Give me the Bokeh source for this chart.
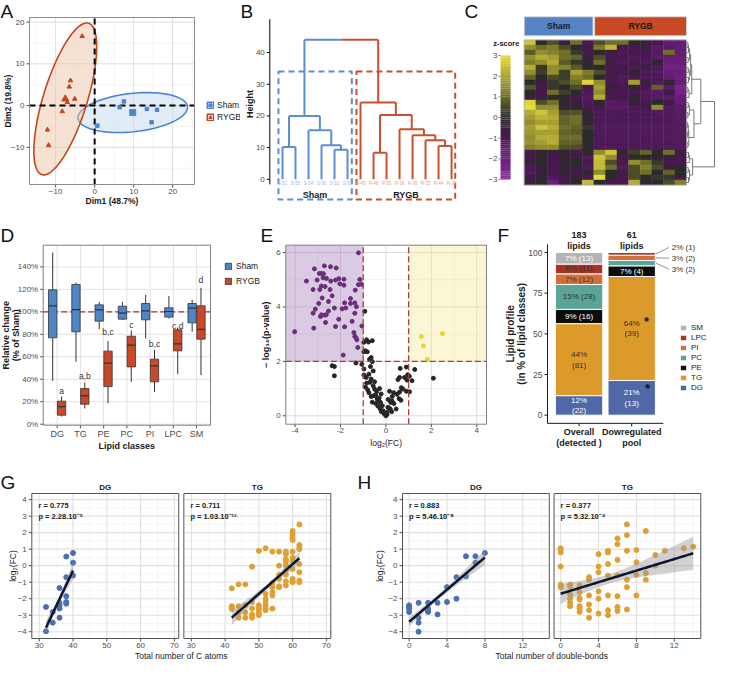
import numpy as np
from bokeh.plotting import figure
from bokeh.models import Range1d, Legend, LegendItem, LinearColorMapper, ColumnDataSource
from bokeh.layouts import row, column
from bokeh.embed import file_html
from bokeh.resources import INLINE
from bokeh.core.properties import value

FONT = "Liberation Sans"
TXT = "#1a1a1a"
TCK = "#4d4d4d"
MINUS = "\u2212"

# ===================== DATA =====================
# A: PCA of individuals
pca_sham_dim1 = [7.5, 6.4, 13.4, 16.0, 14.6, 0.7]
pca_sham_dim2 = [1.0, -0.4, -0.8, -1.0, -4.0, -4.8]
pca_rygb_dim1 = [-3.2, -6.2, -6.5, -5.1, -8.3, -12.1, -11.8, -7.0]
pca_rygb_dim2 = [16.6, 6.0, 4.5, 1.6, -1.4, -5.8, -9.5, 0.8]
ell_sham = [14.1, 4.6, 5.7]      # semi-axis a, semi-axis b, angle (deg)
ell_rygb = [19.1, 5.6, 71.5]

# B: sample dendrogram
dend_sham_labels = ["S-51", "S-55", "S-54", "S-56", "S-52", "S-53"]
dend_rygb_labels = ["R-43", "R-48", "R-50", "R-39", "R-36", "R-35", "R-44", "R-37"]
dend_sham_tree = ((0, 1, 10.2), (2, (3, (4, 5, 9.3), 10.7), 15.5), 20.0)
dend_rygb_tree = (6, ((7, 8, 8.4), (9, (10, (11, (12, 13, 10.5), 12.3), 13.9), 15.8), 20.3), 24.2)
dend_root_height = 44.0
dend_cut_height = 34.0

# C: heatmap z-scores (rows x 14 samples: 6 Sham, 8 RYGB)
heat_groups = ["Sham", "RYGB"]
heat_group_n = [6, 8]
heat_z = [
    [2.5, 0, 0.5, -0.5, 1, -1, 0.5, 1, 1, 0, -0.5, -1, -1.8, -1.8],
    [1.5, 1, 1.2, 0.5, 0, -0.8, 1.2, 2.2, -1, -1, -0.5, -1.5, -1.5, -1.8],
    [0.7, 1.5, 1.3, 1, 0.2, -1, 0, -0.8, -1.2, -1, -1, -1.5, 1, -1.8],
    [1.5, 2, 1.8, 1, 0.8, -0.3, 0.5, -1, -1, -1.2, -1, -1.5, -1.8, -2],
    [1.2, 1.5, 2, 0.7, 0.2, -0.2, 1, -0.8, -1.2, -1, -1.2, -0.3, -2, -2],
    [2, 0.2, 1.5, 1.3, 0.7, 0, 0, -1, -1, -1.2, -0.6, -1.2, -2.2, -2.2],
    [1.5, 0.3, 1.5, 0.3, 1.8, 1.2, 0.5, -0.8, -1, -0.3, -1.2, -1.3, -2, -2],
    [0.8, 0, 0.5, 0.3, 1.3, 1, -0.2, -1, -1.3, -1, -1.2, -1.2, -1.8, -2.2],
    [0, -0.5, 0.2, 0.5, 1, 2.8, 1.5, -1, -1.2, 1.8, -0.6, -1.2, -0.3, -2],
    [0.6, -1, 0.2, 0, 0.5, -1, 1.8, -0.3, -1, 0, -1, 0.8, -1.5, -2.5],
    [0, -0.8, 1, 0.3, 0, -1.2, 1.5, -1, -1, -1, -1.3, -1.5, -0.8, -2.3],
    [-0.5, -0.8, 0, -0.2, -1, -1.3, 2, -1, -1, -0.3, -1.2, -1.5, -1.5, -2],
    [2.8, 0.5, 1, -0.3, -0.5, -1.2, 0, -1.5, -1.3, -0.3, -1, 0, -0.8, -1.8],
    [3, 1.5, 1.5, -0.2, -0.3, -1, -1, -1.5, -1.5, -1.2, -0.8, 1.5, -1.3, -1.5],
    [2, 2.5, 1.8, 0.5, 0.6, -0.3, -1.2, -1.2, -1.2, -1.2, -1.2, -1.3, -1.3, -1.5],
    [1.8, 2.2, 2, 0.8, 1, 0, -1.2, -1.2, -1.2, -1.2, -1.2, -1.2, -1.3, -1.5],
    [1.5, 1.8, 1.8, 0.8, 1, -0.2, -1.2, -1.2, -1.2, -1.2, -1.2, -1.2, -1.2, -1.4],
    [1.8, 2.5, 2, 1, 0.8, 0.2, -1.3, -1.3, -1.3, -1.3, -1.3, -1.3, -1.3, -1.4],
    [1.7, 1.8, 1.8, 0.8, 0.7, 0, -1.3, -1.3, -1.3, -1.2, -1.3, -1.3, -1.3, -1.4],
    [1.5, 2, 2, 1, 1, 0, -1.2, -1.2, -1.2, -1.2, -1.2, -1.2, -1.3, -1.3],
    [1.6, 1.8, 2, 0.8, 0.8, 0, -1.2, -1.2, -1.2, -1.2, -1.2, -1.2, -1.2, -1.3],
    [1.3, 1.5, 1.5, 0.6, 0.5, -0.1, -1.2, -1.2, -1.2, -1.2, -1.2, -1.2, -1.2, -1.4],
    [-1, -0.3, -0.6, -0.2, -1, -0.2, 1.5, 2.5, -0.3, 0.3, 0.8, -0.3, 1, -0.7],
    [-0.8, -0.2, -1, -0.2, -0.6, -1.3, 2.5, 1.5, -1, 0, 0, -0.3, -0.6, -1],
    [-0.3, 0, -1, -0.2, 0, -1, 2.3, 0.5, -1, 1.5, 1, 0.2, -1, -1],
    [-1.2, -0.3, -1, -0.6, -0.3, -1.2, 2.3, 1, -1.3, 0.5, 1.3, 0.5, -0.3, 0],
    [-1.3, -0.5, -1, -0.3, -1, -0.2, 1.5, 0, -0.8, 0.5, 1, 0, 0.8, 0],
    [-0.8, -0.3, -1.2, -1, -0.3, -1, 3, 0, -1, 0.5, 0, 0.2, 0.2, -0.8],
    [-0.3, 0, -2, -0.6, 0, 2.3, 0, -1, -1, 2, -0.3, 0, 0.5, 1.3],
]
heat_row_tree = (
    ((((((0, 1, 0.3), 2, 0.5), (3, 4, 0.4), 0.9), ((5, 6, 0.4), (7, 8, 0.5), 0.8), 1.3),
      ((9, 10, 0.3), 11, 0.7), 1.7),
     (((12, 13, 0.4), (14, 15, 0.3), 0.8), (((16, 17, 0.2), (18, 19, 0.2), 0.4), (20, 21, 0.3), 0.6), 2.5),
     5.0),
    (((22, 23, 0.5), 24, 0.8), ((25, 26, 0.4), (27, 28, 0.5), 0.9), 2.0),
    10.0)
z_ticks = [3, 2, 1, 0, -1, -2, -3]
z_anchor = [-3, -2, -1, 0, 1, 2, 3]
z_colors = ["#8b2d98", "#6a1e79", "#47194f", "#2a2a2a", "#6f6f2a", "#b3ab35", "#e6dc3c"]

# D: relative change boxplots (% of Sham)
classes_d = ["DG", "TG", "PE", "PC", "PI", "LPC", "SM"]
sham_lo = [38.6, 55.5, 84.6, 92.9, 76.3, 94.1, 82.2]
sham_q1 = [76.9, 82.2, 91.7, 93.5, 92.9, 95.3, 90.2]
sham_med = [105.3, 102.0, 101.8, 98.8, 100.9, 100.3, 103.3]
sham_q3 = [119.6, 124.3, 106.2, 105.0, 107.4, 103.6, 107.4]
sham_hi = [152.8, 126.0, 108.9, 108.9, 115.1, 114.0, 110.7]
rygb_lo = [6.8, 14.0, 18.7, 37.7, 28.8, 44.5, 43.6]
rygb_q1 = [8.0, 17.8, 33.5, 51.0, 37.7, 65.3, 75.7]
rygb_med = [15.7, 25.2, 54.3, 70.3, 51.9, 71.5, 84.3]
rygb_q3 = [20.5, 31.7, 65.0, 78.3, 57.9, 84.0, 105.3]
rygb_hi = [24.6, 37.1, 73.9, 83.4, 66.2, 86.0, 121.4]
sig_letters = ["a", "a,b", "b,c", "c", "b,c", "c,d", "d"]
sig_y = [29.7, 43.0, 82.0, 88.7, 71.0, 87.5, 128.0]

# E: volcano plot
down_log2fc = [-1.21, -3.15, -2.71, -2.44, -2.19, -2.93, -2.84, -2.75, -3.50, -3.03, -2.77, -2.62, -2.43, -2.22,
               -2.08, -1.15, -1.07, -1.21, -2.03, -1.85, -2.84, -2.68, -3.21, -2.91, -2.46, -1.35, -2.81, -2.53,
               -2.96, -1.82, -1.56, -1.37, -2.27, -1.93, -1.77, -1.30, -3.21, -2.84, -2.88, -2.69, -2.63, -2.53,
               -1.37, -2.08, -1.49, -4.02, -3.18, -2.22, -1.82, -1.06, -1.41, -1.37, -1.32, -1.28, -1.24, -1.88,
               -1.56, -2.37, -3.11, -2.66, -1.85]
down_mlog10p = [5.99, 5.40, 5.51, 5.48, 5.43, 5.23, 5.23, 5.22, 4.95, 4.99, 5.07, 5.05, 4.95, 4.99,
                5.04, 5.01, 4.83, 4.82, 4.85, 4.80, 4.77, 4.75, 4.64, 4.64, 4.64, 4.62, 4.33, 4.20,
                4.13, 4.15, 4.13, 4.15, 3.96, 3.93, 3.96, 4.01, 3.77, 3.71, 3.65, 3.70, 3.71, 3.85,
                3.77, 3.55, 3.47, 3.09, 3.22, 3.28, 3.27, 3.30, 3.06, 2.92, 2.87, 2.79, 2.51, 2.23,
                4.31, 4.41, 3.92, 3.43, 5.02]
up_log2fc = [1.56, 2.49, 1.65, 1.83]
up_mlog10p = [2.91, 3.02, 2.57, 2.08]
ns_log2fc = [-0.93, -0.85, -0.77, -0.60, -0.97, -0.91, -0.82, -0.97, -0.65, -0.72, -1.32, -1.06, -2.37, -2.27,
             -2.27, -0.97, -0.68, -0.60, -0.97, -0.87, -0.75, -0.56, -0.65, -0.71, -0.56, -0.50, -0.28, -0.41,
             -0.65, -0.53, -0.38, -0.31, -0.24, -0.16, -0.12, -0.06, 0.00, 0.21, 0.28, 0.13, -0.21, 0.90,
             1.27, 2.09, 0.63, 0.96, 1.03, 0.82, 0.60, 0.53, 1.15, 0.93, 0.68, 0.75, 0.90, 0.60, 0.49,
             0.34, 0.16, 0.26, 0.58, 0.66, 1.04, 0.09, 0.19, 0.04, -0.85, -0.90, -0.80, -0.45, -0.35, -0.25,
             -0.10, 0.05, -0.20, -0.45, -0.60, -0.75, -0.50, -0.30, 0.10, 0.35, 0.45, 0.25]
ns_mlog10p = [3.84, 2.79, 2.71, 2.76, 2.70, 2.39, 2.35, 2.35, 2.14, 2.08, 1.94, 1.89, 1.84, 1.81,
              1.47, 1.72, 1.81, 1.99, 1.50, 1.41, 1.53, 1.65, 1.35, 1.23, 1.10, 0.98, 1.00, 0.89,
              0.71, 0.74, 0.61, 0.55, 0.49, 0.37, 0.18, 0.06, 0.00, 0.49, 0.71, 0.28, 0.80, 1.79,
              1.70, 1.38, 1.74, 1.51, 1.45, 1.41, 1.41, 1.33, 1.29, 1.31, 1.03, 0.98, 0.90, 0.87, 0.79,
              0.85, 0.90, 0.55, 0.63, 0.57, 0.88, 0.31, 0.25, 0.12, 1.20, 1.05, 0.95, 0.75, 0.35, 0.25,
              0.10, 0.05, 0.15, 0.45, 0.50, 0.85, 1.25, 0.65, 0.60, 0.45, 0.25, 0.15]
fc_cut = 1.0
p_cut = 2.0

# F: lipid class profile
classes_f = ["DG", "TG", "PE", "PC", "PI", "LPC", "SM"]
colors_f = ["#5068a8", "#dc9a2a", "#0d0d0d", "#5aa597", "#d2703c", "#a93226", "#b4b4b4"]
overall_n = [22, 81, 16, 28, 12, 11, 13]
down_n = [13, 39, 4, 2, 2, 1, 0]
bar_names = [["Overall", "(detected )"], ["Dowregulated", "pool"]]

# G: log2FC vs total C atoms
g_dg_carbons = [32, 32, 34, 34, 36, 36, 36, 36, 36, 38, 38, 38, 38, 38, 40, 40, 40]
g_dg_log2fc = [-2.5, -3.97, -2.8, -3.45, -1.35, -2.25, -2.4, -2.6, -3.15, 0.55, -0.7, -1.85, -2.2, -2.3, 0.77, 0.18, -0.6]
g_tg_carbons = [42, 42, 42, 42, 44, 44, 44, 44, 46, 46, 46, 46, 48, 48, 48, 48, 48,
                50, 50, 50, 50, 50, 50, 52, 52, 52, 52, 52, 52, 52, 54, 54, 54, 54, 54, 54,
                56, 56, 56, 56, 56, 56, 58, 58, 58, 58, 58, 58, 58, 58, 58,
                60, 60, 60, 60, 60, 60, 60, 60, 60, 60, 60, 62, 62, 62, 62, 62, 62, 62, 62]
g_tg_log2fc = [-1.37, -2.45, -2.55, -2.62, -1.13, -2.45, -2.82, -3.15, -1.13, -2.4, -2.82, -3.15,
               -0.06, -2.2, -2.6, -2.95, -3.15, 0.9, -2.4, -2.55, -2.7, -2.9, -3.0,
               1.05, -1.7, -2.0, -2.2, -2.4, -2.6, -2.7, 0.85, -1.05, -1.3, -1.6, -1.8, -2.6,
               0.85, 0.0, -0.55, -0.8, -1.25, -1.3, 0.85, 0.7, 0.4, 0.25, 0.0, -0.3, -0.55, -0.95, -1.2,
               2.1, 1.9, 1.7, 1.55, 0.85, 0.5, 0.3, -0.2, -0.8, -0.95, -1.0,
               2.5, 1.25, 1.1, 1.0, 0.1, -0.4, -0.9, -1.0]
# fitted lines: x0, x1, y0, y1, x_center, ci_min, ci_slope
g_fit_dg = [32, 40, -3.75, -0.3, 35.5, 0.2, 0.111]
g_fit_tg = [42, 62, -3.15, 0.45, 53, 0.15, 0.039]
g_stats = [["r = 0.775", "p = 2.28.10\u207b\u2075"], ["r = 0.711", "p = 1.03.10\u207b\u00b9\u00b3"]]

# H: log2FC vs total double bonds
h_dg_db = [0, 0, 0, 0, 1, 1, 1, 1, 2, 2, 2, 2, 3, 3, 4, 4, 5, 5, 6, 6, 7, 7, 8]
h_dg_log2fc = [-2.4, -2.5, -2.6, -2.8, -2.25, -3.15, -3.45, -4.0, -2.25, -2.6, -2.75, -2.8,
               -2.25, -2.95, -1.3, -2.2, -0.7, -2.0, 0.57, -0.65, 0.57, 0.18, 0.77]
h_tg_db = [0, 0, 0, 0, 0, 0, 1, 1, 1, 1, 1, 1, 2, 2, 2, 2, 2, 2, 2, 3, 3, 3, 3, 3, 3,
           4, 4, 4, 4, 4, 4, 5, 5, 5, 5, 5, 5, 5, 6, 6, 6, 6, 6, 6, 6, 7, 7, 7, 7, 7, 7,
           8, 8, 8, 8, 9, 9, 9, 10, 10, 11, 13, 14]
h_tg_log2fc = [1.05, 0.95, 0.8, -0.05, -1.15, -1.3, -1.15, -1.25, -1.75, -2.0, -2.25, -2.45,
               -1.2, -1.6, -1.95, -2.05, -2.45, -2.6, -2.8, -0.7, -0.85, -1.8, -2.35, -2.7, -3.15,
               0.7, -0.05, -0.4, -1.55, -2.0, -2.9, 0.9, 0.8, 0.1, -0.6, -1.8, -2.7, -3.0,
               1.65, 1.3, 0.35, -0.6, -1.85, -2.5, -2.75, 2.5, 1.85, 0.9, -0.85, -1.3, -2.65,
               0.95, 0.2, -0.55, -1.8, 2.1, -0.45, -0.85, 0.65, 0.0, 0.9, 1.05, 1.15]
h_fit_dg = [0, 8, -3.4, 0.5, 3, 0.15, 0.085]
h_fit_tg = [0, 14, -1.7, 0.75, 5, 0.28, 0.107]
h_stats = [["r = 0.883", "p = 5.46.10\u207b\u2078"], ["r = 0.377", "p = 5.32.10\u207b\u2074"]]


# ===================== HELPERS =====================
def mkfig(w, h, ppx, pdat):
    """Frame spans the whole canvas. ppx: panel box in canvas px (left, right, top, bottom);
    pdat: its data extent (x0, x1, y0, y1)."""
    pl, pr, pt, pb = ppx
    x0, x1, y0, y1 = pdat
    sx = (pr - pl) / float(x1 - x0)
    sy = (pb - pt) / float(y1 - y0)
    xr = (x0 - pl / sx, x1 + (w - pr) / sx)
    yr = (y0 - (h - pb) / sy, y1 + pt / sy)
    p = figure(width=w, height=h, x_range=Range1d(*xr), y_range=Range1d(*yr),
               output_backend="svg", toolbar_location=None, x_axis_type=None, y_axis_type=None,
               min_border_left=0, min_border_right=0, min_border_top=0, min_border_bottom=0)
    p.outline_line_color = None
    p.border_fill_color = "white"
    p.background_fill_color = "white"
    p._sx, p._sy = sx, sy
    p._X = lambda lx: x0 + (lx - pl) / sx
    p._Y = lambda ly: y1 - (ly - pt) / sy
    p._pdat = pdat
    return p


def txt(p, x, y, t, size="8px", color=TXT, bold=False, align="center", baseline="middle", angle=0.0):
    return p.text(x=list(x), y=list(y), text=list(t), text_font=value(FONT), text_font_size=value(size),
                  text_color=color, text_font_style="bold" if bold else "normal",
                  text_align=align, text_baseline=baseline, angle=angle)


def xaxis_manual(p, ticks, labels, fs="8px", color=TCK, tick_color=TCK, gap=4, title=None, title_ly=None,
                 title_bold=True, tfs="9px"):
    yb = p._pdat[2]
    d = 1.0 / p._sy
    n = len(ticks)
    p.segment(list(ticks), [yb] * n, list(ticks), [yb - 3 * d] * n, line_color=tick_color, line_width=1)
    txt(p, ticks, [yb - gap * d] * n, labels, size=fs, color=color, baseline="top")
    if title:
        x0, x1 = p._pdat[0], p._pdat[1]
        txt(p, [(x0 + x1) / 2.0], [p._Y(title_ly)], [title], size=tfs, bold=title_bold)


def yaxis_manual(p, ticks, labels, fs="8px", color=TCK, tick_color=TCK, title=None, title_lx=None,
                 title_bold=True, tfs="9px", line_h=10.5, line=None):
    xl = p._pdat[0]
    d = 1.0 / p._sx
    n = len(ticks)
    if line:
        p.segment([xl], [line[0]], [xl], [line[1]], line_color=tick_color, line_width=1)
    p.segment([xl] * n, list(ticks), [xl - 3 * d] * n, list(ticks), line_color=tick_color, line_width=1)
    txt(p, [xl - 5 * d] * n, ticks, labels, size=fs, color=color, align="right")
    if title:
        lines = title.split("\n")
        yc = (p._pdat[2] + p._pdat[3]) / 2.0
        k = len(lines)
        xs = [p._X(title_lx + (i - (k - 1) / 2.0) * line_h) for i in range(k)]
        txt(p, xs, [yc] * k, lines, size=tfs, bold=title_bold, angle=np.pi / 2)


def grid_manual(p, xs, ys, color, width, xlim=None, ylim=None):
    x0, x1, y0, y1 = p._pdat
    if xlim:
        x0, x1 = xlim
    if ylim:
        y0, y1 = ylim
    if len(xs):
        p.segment(list(xs), [y0] * len(xs), list(xs), [y1] * len(xs), line_color=color, line_width=width)
    if len(ys):
        p.segment([x0] * len(ys), list(ys), [x1] * len(ys), list(ys), line_color=color, line_width=width)


def border(p, color="#7f7f7f"):
    x0, x1, y0, y1 = p._pdat
    p.quad(left=[x0], right=[x1], bottom=[y0], top=[y1], fill_color=None, line_color=color, line_width=1)


def letter(p, t, lx, ly):
    txt(p, [p._X(lx)], [p._Y(ly)], [t], size="19px", color="#111111", align="left", baseline="top")


def dendro(node, segs):
    if isinstance(node, int):
        return node + 1.0, 0.0
    left, right, h = node
    xl, hl = dendro(left, segs)
    xr, hr = dendro(right, segs)
    segs += [(xl, hl, xl, h), (xr, hr, xr, h), (xl, h, xr, h)]
    return (xl + xr) / 2.0, h


def ellipse_xy(cx, cy, a, b, ang, n=120):
    t = np.linspace(0, 2 * np.pi, n)
    th = np.radians(ang)
    return (cx + a * np.cos(t) * np.cos(th) - b * np.sin(t) * np.sin(th),
            cy + a * np.cos(t) * np.sin(th) + b * np.sin(t) * np.cos(th))


def mlab(v):
    return MINUS + str(abs(v)) if v < 0 else str(v)


def legend_kw(fs="8.5px"):
    return dict(padding=0, margin=0, label_text_font=FONT, label_text_font_size=fs, label_text_color=TXT,
                border_line_color=None, background_fill_alpha=0)


ROW2_H = 252
ROW3_H = 202

# ===================== A =====================
pa = mkfig(240, 207, (29, 194, 17, 184), (-16.7, 25.6, -18.9, 21.1))
grid_manual(pa, [-15, -5, 5, 15, 25], [-15, -5, 5, 15], "#efefef", 0.6)
grid_manual(pa, [-10, 0, 10, 20], [-10, 0, 10, 20], "#dedede", 1)
yaxis_manual(pa, [-10, 0, 10, 20], [mlab(v) for v in [-10, 0, 10, 20]], title="Dim2 (19.8%)", title_lx=7,
             tfs="8.5px")
xaxis_manual(pa, [-10, 0, 10, 20], [mlab(v) for v in [-10, 0, 10, 20]], gap=4, title="Dim1 (48.7%)",
             title_ly=200, tfs="8.5px")
cs = (np.mean(pca_sham_dim1), np.mean(pca_sham_dim2))
cr = (np.mean(pca_rygb_dim1), np.mean(pca_rygb_dim2))
ex, ey = ellipse_xy(cs[0], cs[1], *ell_sham)
r_es = pa.patch(ex, ey, fill_color="#c6d9f0", fill_alpha=0.5, line_color="#4a86d0", line_width=1.6)
ex, ey = ellipse_xy(cr[0], cr[1], *ell_rygb)
r_er = pa.patch(ex, ey, fill_color="#ecc6a6", fill_alpha=0.5, line_color="#c4471f", line_width=1.6)
pa.segment([0, -16.7], [-18.9, 0], [0, 25.6], [21.1, 0], line_color="black", line_width=2, line_dash="6 4")
r_ps = pa.scatter(pca_sham_dim1, pca_sham_dim2, marker="square", size=3.5, color="#4a86d0")
r_pr = pa.scatter(pca_rygb_dim1, pca_rygb_dim2, marker="triangle", size=4.5, color="#c4471f")
pa.scatter([cs[0]], [cs[1]], marker="square", size=6, color="#4a86d0")
pa.scatter([cr[0]], [cr[1]], marker="triangle", size=7, color="#c4471f")
border(pa, "#8c8c8c")
leg_a = Legend(items=[LegendItem(label="Sham", renderers=[r_es, r_ps]),
                      LegendItem(label="RYGB", renderers=[r_er, r_pr])],
               location=(206, 85), glyph_width=8, glyph_height=8, label_height=8, spacing=2,
               label_standoff=3, **legend_kw())
pa.add_layout(leg_a)
letter(pa, "A", 0, 0)

# ===================== B =====================
pb = mkfig(242, 207, (29.3, 242, 0, 207), (0.023, 16.38, -8.9, 56.4))
yaxis_manual(pb, [0, 10, 20, 30, 40], ["0", "10", "20", "30", "40"], tick_color="black", title="Height",
             title_lx=9, line=(-1.6, 50.5))
BLUE_D = "#5b8dd6"
RED_D = "#c8502d"
segs_s, segs_r = [], []
xs_s, hs_s = dendro(dend_sham_tree, segs_s)
xs_r, hs_r = dendro(dend_rygb_tree, segs_r)
for segs, col in ((segs_s, BLUE_D), (segs_r, RED_D)):
    pb.segment([s[0] for s in segs], [s[1] for s in segs], [s[2] for s in segs], [s[3] for s in segs],
               line_color=col, line_width=2)
mid = (xs_s + xs_r) / 2
pb.segment([xs_s, xs_s, mid], [hs_s, dend_root_height, dend_root_height],
           [xs_s, mid, mid], [dend_root_height, dend_root_height, dend_root_height], line_color=BLUE_D, line_width=2)
pb.segment([xs_r, mid], [hs_r, dend_root_height], [xs_r, xs_r], [dend_root_height, dend_root_height],
           line_color=RED_D, line_width=2)
n_s = len(dend_sham_labels)
n_all = n_s + len(dend_rygb_labels)
pb.quad(left=[0.69, n_s + 0.69], right=[n_s + 0.33, n_all + 0.28], bottom=[-6.4, -6.4],
        top=[dend_cut_height, dend_cut_height], fill_color=None, line_color=[BLUE_D, RED_D],
        line_width=2, line_dash="6 4")
txt(pb, range(1, n_s + 1), [-1.3] * n_s, dend_sham_labels, size="4.5px", color="#9cbbe8")
txt(pb, range(n_s + 1, n_all + 1), [-1.3] * (n_all - n_s), dend_rygb_labels, size="4.5px", color="#eba088")
txt(pb, [(1 + n_s) / 2, (n_s + 1 + n_all) / 2], [-5.0, -5.0], ["Sham", "RYGB"], size="9px", bold=True)
letter(pb, "B", 0, 0)
letter(pb, "C", 224, 0)

# ===================== C =====================
pc = mkfig(235, 207, (0, 235, 0, 207), (-3.6, 16.67, -33.5, 7.9))
zz = np.linspace(-3, 3, 256)
rgb = [tuple(int(z_colors[i][k:k + 2], 16) for k in (1, 3, 5)) for i in range(len(z_colors))]
pal = []
for z in zz:
    c = [int(round(np.interp(z, z_anchor, [v[k] for v in rgb]))) for k in range(3)]
    pal.append("#%02x%02x%02x" % tuple(c))
mapper = LinearColorMapper(palette=pal, low=-3, high=3)
hz = np.array(heat_z)
nrow, ncol = hz.shape
cx = [c + 0.5 for r in range(nrow) for c in range(ncol)]
cy = [-(r + 0.5) for r in range(nrow) for c in range(ncol)]
cz = [hz[r, c] for r in range(nrow) for c in range(ncol)]
src_h = ColumnDataSource(dict(x=cx, y=cy, z=cz))
pc.rect(x="x", y="y", width=1, height=1, source=src_h, fill_color={"field": "z", "transform": mapper},
        line_color={"field": "z", "transform": mapper}, line_width=0.4)
pc.quad(left=[0], right=[ncol], top=[0], bottom=[-nrow], fill_color=None, line_color="#aaaaaa", line_width=0.8)
gl = [0, heat_group_n[0] + 0.07]
gr = [heat_group_n[0] - 0.07, ncol]
pc.quad(left=gl, right=gr, top=[4.64, 4.64], bottom=[0.84, 0.84], fill_color=["#5583c3", "#c54a25"],
        line_color="#dddddd", line_width=0.8)
txt(pc, [(gl[0] + gr[0]) / 2, (gl[1] + gr[1]) / 2], [2.74, 2.74], heat_groups, size="8.5px", bold=True)


def zy(z):
    return -15.5 + z * 24.8 / 6.0


cbz = np.linspace(-3, 3, 61)
pc.quad(left=-2.04, right=-1.18, bottom=[zy(v) for v in cbz[:-1]], top=[zy(v) + 24.8 / 60 + 0.02 for v in cbz[:-1]],
        fill_color=[pal[int((v + 3.05) / 6.1 * 255)] for v in cbz[:-1]], line_color=None)
pc.segment(x0=[-2.22] * len(z_ticks), y0=[zy(v) for v in z_ticks], x1=[-2.04] * len(z_ticks),
           y1=[zy(v) for v in z_ticks], line_color="#888888", line_width=1)
txt(pc, [-2.3] * len(z_ticks), [zy(v) for v in z_ticks], [mlab(v) for v in z_ticks],
    size="8px", color=TCK, align="right")
txt(pc, [-1.55], [-0.7], ["z-score"], size="7.5px", bold=True)
segs_h = []
dendro(heat_row_tree, segs_h)


def hx(h):
    return ncol + 0.05 + h * 0.236


pc.segment([hx(s[1]) for s in segs_h], [-(s[0] - 0.5) for s in segs_h], [hx(s[3]) for s in segs_h],
           [-(s[2] - 0.5) for s in segs_h], line_color="#777777", line_width=1)

# ===================== D =====================
pd_ = mkfig(260, ROW2_H, (42.7, 210, 37.7, 217.7), (0.4, 7.6, -0.9, 159.3))
xd = np.arange(1, len(classes_d) + 1)
dticks = [0, 20, 40, 60, 80, 100, 120, 140]
grid_manual(pd_, list(xd), dticks, "#e3e3e3", 1)
yaxis_manual(pd_, dticks, ["%d%%" % v for v in dticks], title="Relative change\n(% of Sham)", title_lx=10,
             line_h=10)
xaxis_manual(pd_, list(xd), classes_d, fs="9px", title="Lipid classes", title_ly=238)
pd_.segment([0.4], [100], [7.6], [100], line_color="#a8322c", line_width=1.3, line_dash="6 3")
DOD = 0.19
BW = 0.36
boxes = []
for off, lo, q1, med, q3, hi, col in ((-DOD, sham_lo, sham_q1, sham_med, sham_q3, sham_hi, "#4f86c6"),
                                       (DOD, rygb_lo, rygb_q1, rygb_med, rygb_q3, rygb_hi, "#c8492a")):
    xx = xd + off
    pd_.segment(xx, lo, xx, q1, line_color="#333333", line_width=1)
    pd_.segment(xx, q3, xx, hi, line_color="#333333", line_width=1)
    rb = pd_.vbar(x=xx, width=BW, bottom=q1, top=q3, fill_color=col, line_color="#333333", line_width=0.8)
    pd_.segment(xx - BW / 2, med, xx + BW / 2, med, line_color="#333333", line_width=1.2)
    boxes.append(rb)
txt(pd_, xd + DOD, sig_y, sig_letters, size="8.5px", color="#333333")
border(pd_)
leg_d = Legend(items=[LegendItem(label="Sham", renderers=[boxes[0]]), LegendItem(label="RYGB", renderers=[boxes[1]])],
               location=(224, 173), glyph_width=8, glyph_height=8, label_height=8, spacing=5,
               label_standoff=4, **legend_kw())
pd_.add_layout(leg_d)
letter(pd_, "D", 0, 17)

# ===================== E =====================
pe = mkfig(232, ROW2_H, (25.3, 226, 37.7, 216.7), (-4.41, 4.43, -0.31, 6.27))
grid_manual(pe, [-3, -1, 1, 3], [1, 3, 5], "#ececec", 0.7)
grid_manual(pe, [-4, -2, 0, 2, 4], [0, 2, 4, 6], "#dcdcdc", 1)
yaxis_manual(pe, [0, 2, 4, 6], ["0", "2", "4", "6"], title=MINUS + " log\u2081\u2080(p-value)", title_lx=5.5)
xaxis_manual(pe, [-4, -2, 0, 2, 4], ["-4", "-2", "0", "2", "4"], title="log\u2082(FC)", title_ly=235,
             title_bold=False, tfs="8.5px")
pe.quad(left=[-4.41], right=[-fc_cut], bottom=[p_cut], top=[6.27], fill_color="#a57bb8", fill_alpha=0.4, line_color=None)
pe.quad(left=[fc_cut], right=[4.43], bottom=[p_cut], top=[6.27], fill_color="#f3e48a", fill_alpha=0.35, line_color=None)
pe.scatter(ns_log2fc, ns_mlog10p, size=4, color="#262626")
pe.scatter(down_log2fc, down_mlog10p, size=4, color="#6b2d7b")
pe.scatter(up_log2fc, up_mlog10p, size=4, color="#e6d531")
pe.segment([-fc_cut, fc_cut, -4.41], [-0.31, -0.31, p_cut], [-fc_cut, fc_cut, 4.43], [6.27, 6.27, p_cut],
           line_color="#a8403a", line_width=1.3, line_dash="6 3")
border(pe)
letter(pe, "E", 0, 17)

# ===================== F =====================
pf = mkfig(225, ROW2_H, (55, 225, 45, 207.7), (0.4, 3.63, 0, 100))
yaxis_manual(pf, [0, 25, 50, 75, 100], ["0", "25", "50", "75", "100"], fs="8.5px", tick_color=TXT,
             title="Lipid profile\n(in % of lipid classes)", title_lx=23.5, tfs="10px", line_h=11.5, line=(-5, 105))
pf.segment([0.4], [-5], [2.6], [-5], line_color=TXT, line_width=1)
pf.segment([1, 2], [-5, -5], [1, 2], [-6.9, -6.9], line_color=TXT, line_width=1)
txt(pf, [1, 2], [-10.2, -10.2], [bar_names[0][0], bar_names[1][0]], size="9px", bold=True)
txt(pf, [1, 2], [-17.0, -17.0], [bar_names[0][1], bar_names[1][1]], size="9px", bold=True)
label_col = {"DG": "white", "TG": "#333333", "PE": "white", "PC": "#333333", "PI": "#333333",
             "LPC": "#333333", "SM": "white"}
outside_y = {"LPC": 103.1, "PI": 96.5, "PC": 89.7}
rend_f = {}
for bi, counts in enumerate((overall_n, down_n)):
    tot = float(sum(counts))
    cum = 0.0
    xb = bi + 1
    for cls, n, col in zip(classes_f, counts, colors_f):
        if n == 0:
            continue
        pct = 100.0 * n / tot
        r = pf.quad(left=[xb - 0.45], right=[xb + 0.45], bottom=[cum], top=[cum + pct], fill_color=col,
                    line_color="white", line_width=1)
        rend_f.setdefault(cls, r)
        midv = cum + pct / 2
        lab_p = "%d%%" % int(round(pct))
        if bi == 1 and pct < 5:
            ly = outside_y[cls]
            pf.segment([xb + 0.46], [midv], [xb + 0.71], [ly], line_color="#777777", line_width=0.8)
            txt(pf, [xb + 0.76], [ly], ["%s (%d)" % (lab_p, n)], size="8px", color="#333333", align="left")
        elif cls in ("DG", "TG"):
            txt(pf, [xb], [midv + 3.3], [lab_p], size="8px", color=label_col[cls])
            txt(pf, [xb], [midv - 3.3], ["(%d)" % n], size="8px", color=label_col[cls])
        else:
            txt(pf, [xb], [midv], ["%s (%d)" % (lab_p, n)], size="8px", color=label_col[cls])
        cum += pct
    txt(pf, [xb], [110.8], ["%d" % int(tot)], size="9px", bold=True)
    txt(pf, [xb], [104.0], ["lipids"], size="9px", bold=True)
txt(pf, [2.28, 2.3], [57.6, 16.4], ["*", "*"], size="13px", bold=True, color="#111111")
leg_f = Legend(items=[LegendItem(label=c, renderers=[rend_f[c]]) for c in reversed(classes_f)],
               location=(187, 67), glyph_width=8, glyph_height=7, label_height=8, spacing=1,
               label_standoff=4, **legend_kw("8px"))
pf.add_layout(leg_f)
letter(pf, "F", 5, 17)


# ===================== G & H (faceted) =====================
def facet_panel(w, ppx, pdat, off, xlim, xmaj, xmin, data, fits, stats, xlabel, ylab_lx):
    p = mkfig(w, ROW3_H, ppx, pdat)
    ylim = (pdat[2], pdat[3])
    ymaj = [-4, -3, -2, -1, 0, 1, 2, 3, 4]
    ymin = [v + 0.5 for v in ymaj[:-1]]
    ticks, labs = [], []
    for k in range(2):
        o = off * k
        xl = (xlim[0] + o, xlim[1] + o)
        grid_manual(p, [v + o for v in xmin], ymin, "#f0f0f0", 0.7, xlim=xl, ylim=ylim)
        grid_manual(p, [v + o for v in xmaj], ymaj, "#e0e0e0", 1.1, xlim=xl, ylim=ylim)
        ticks += [v + o for v in xmaj]
        labs += [str(v) for v in xmaj]
    yaxis_manual(p, ymaj, [mlab(v) for v in ymaj], title="log\u2082(FC)", title_lx=ylab_lx, title_bold=False,
                 tfs="8.5px")
    xaxis_manual(p, ticks, labs, title=xlabel, title_ly=196, title_bold=False, tfs="8.5px")
    names = ["DG", "TG"]
    cols = ["#4a6fb0", "#e0a030"]
    for k in range(2):
        o = off * k
        xs, ys = data[k]
        p.scatter([v + o for v in xs], ys, size=5, color=cols[k])
        x0, x1, y0, y1, xc, cmin, ck = fits[k]
        fx = np.linspace(x0, x1, 60)
        fy = y0 + (y1 - y0) * (fx - x0) / (x1 - x0)
        hw = np.sqrt(cmin ** 2 + (ck * (fx - xc)) ** 2)
        p.varea(fx + o, fy - hw, fy + hw, fill_color="#999999", fill_alpha=0.45)
        p.line(fx + o, fy, line_color="#0d1533", line_width=2.5)
        p.quad(left=[xlim[0] + o], right=[xlim[1] + o], bottom=[ylim[0]], top=[ylim[1]], fill_color=None,
               line_color="#555555", line_width=1)
        txt(p, [(xlim[0] + xlim[1]) / 2 + o], [4.72], [names[k]], size="8px", bold=True)
        txt(p, [xlim[0] + 0.045 * (xlim[1] - xlim[0]) + o] * 2, [3.65, 3.0], stats[k], size="7.5px", bold=True,
            align="left")
    return p


pg = facet_panel(357, (31.3, 330.3, 34, 179), (27.8, 116.3, -4.41, 4.37), 45, (27.8, 71.3),
                 [30, 40, 50, 60, 70], [35, 45, 55, 65],
                 [(g_dg_carbons, g_dg_log2fc), (g_tg_carbons, g_tg_log2fc)], [g_fit_dg, g_fit_tg], g_stats,
                 "Total number of C atoms", 12.5)
letter(pg, "G", 0, 12)
ph = facet_panel(360, (45, 343.3, 34, 179), (-0.7, 30.8, -4.41, 4.37), 16, (-0.7, 14.8),
                 [0, 4, 8, 12], [2, 6, 10, 14],
                 [(h_dg_db, h_dg_log2fc), (h_tg_db, h_tg_log2fc)], [h_fit_dg, h_fit_tg], h_stats,
                 "Total number of double-bonds", 22.5)
letter(ph, "H", 0, 12)

layout = column(row(pa, pb, pc, spacing=0), row(pd_, pe, pf, spacing=0), row(pg, ph, spacing=0), spacing=0)
open("out.html", "w").write(file_html(layout, INLINE))
